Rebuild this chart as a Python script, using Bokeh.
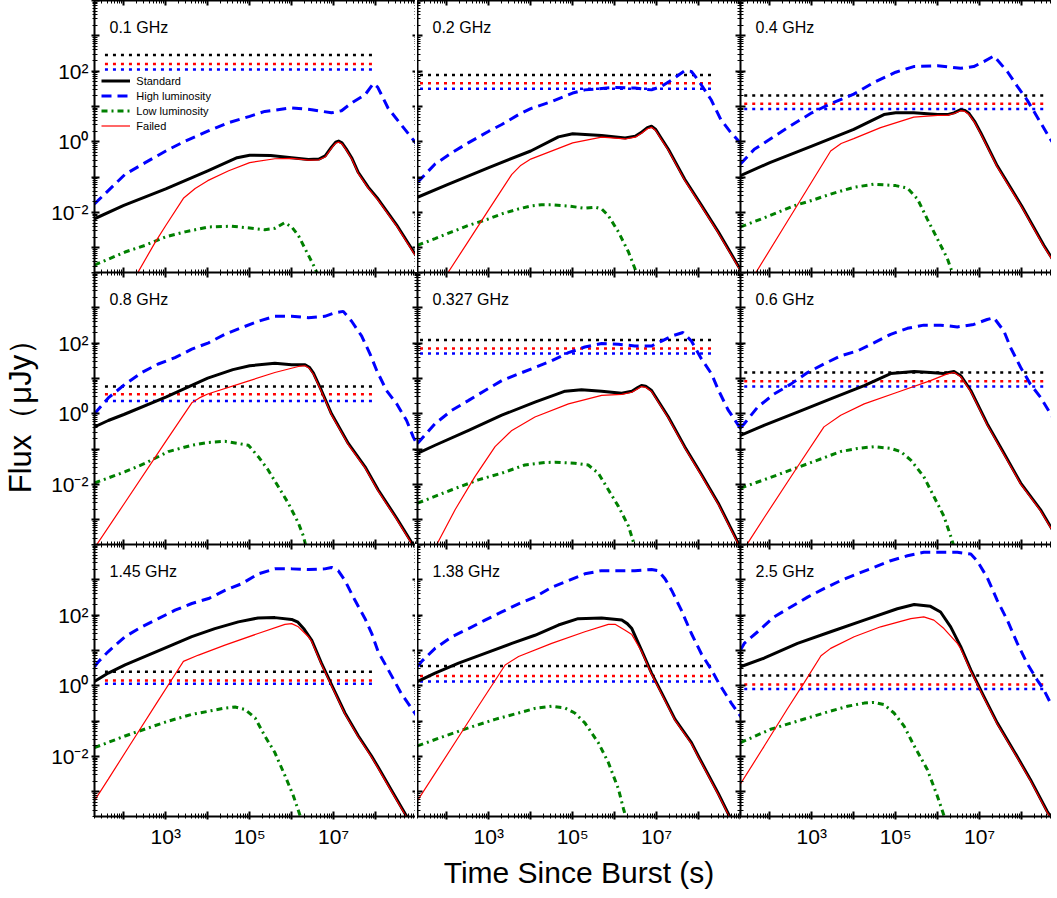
from bokeh.plotting import figure
from bokeh.layouts import gridplot
from bokeh.models import (Range1d, LogAxis, FixedTicker, CustomJSTickFormatter,
                          Label, Legend, LegendItem)
from bokeh.embed import file_html
from bokeh.resources import INLINE

# ---------------- data: (log10 t [s], log10 flux [uJy]) ----------------
PANEL_LABELS = ["0.1 GHz", "0.2 GHz", "0.4 GHz",
                "0.8 GHz", "0.327 GHz", "0.6 GHz",
                "1.45 GHz", "1.38 GHz", "2.5 GHz"]
SERIES_NAMES = ["Standard", "High luminosity", "Low luminosity", "Failed"]

# 0.1 GHz
P1_STD = [(1.30,-2.18),(2.00,-1.80),(3.00,-1.33),(4.00,-0.82),(4.70,-0.45),(5.00,-0.38),(5.50,-0.39),(6.00,-0.45),(6.40,-0.50),(6.65,-0.49),(6.80,-0.40),(6.95,-0.15),(7.05,-0.01),(7.12,0.02),(7.20,-0.03),(7.30,-0.20),(7.43,-0.45),(7.59,-0.87),(7.83,-1.29),(8.06,-1.62),(8.50,-2.35),(8.90,-3.10),(9.10,-3.45)]
P1_FAIL = [(2.00,-4.40),(2.31,-3.75),(2.75,-2.84),(3.00,-2.37),(3.42,-1.60),(3.70,-1.32),(4.00,-1.10),(4.50,-0.82),(5.00,-0.59),(5.60,-0.48),(6.00,-0.47),(6.40,-0.52),(6.65,-0.51),(6.80,-0.43),(6.95,-0.18),(7.05,-0.04),(7.12,-0.01),(7.20,-0.06),(7.30,-0.23),(7.43,-0.48),(7.59,-0.90),(7.83,-1.32),(8.06,-1.65),(8.50,-2.38),(8.90,-3.13),(9.10,-3.48)]
P1_HIGH = [(1.30,-1.76),(2.03,-0.92),(2.51,-0.59),(3.00,-0.26),(3.46,0.02),(4.00,0.30),(4.49,0.54),(5.00,0.72),(5.36,0.86),(6.00,0.96),(6.48,0.91),(6.95,0.82),(7.19,0.88),(7.43,1.10),(7.75,1.33),(7.95,1.65),(8.05,1.55),(8.30,0.95),(8.70,0.35),(8.97,-0.05),(9.10,-0.30)]
P1_LOW = [(1.30,-3.49),(2.03,-3.12),(2.51,-2.93),(3.00,-2.69),(3.46,-2.55),(4.02,-2.41),(4.57,-2.39),(5.00,-2.44),(5.36,-2.49),(5.60,-2.45),(5.83,-2.29),(6.00,-2.41),(6.16,-2.65),(6.36,-3.12),(6.52,-3.49),(6.62,-3.75)]

# 0.2 GHz
P2_STD = [(1.30,-1.57),(2.00,-1.22),(3.00,-0.73),(4.00,-0.26),(4.66,0.14),(5.00,0.23),(5.69,0.18),(6.25,0.11),(6.49,0.16),(6.65,0.28),(6.78,0.40),(6.88,0.44),(6.98,0.35),(7.10,0.12),(7.28,-0.21),(7.67,-1.06),(8.07,-1.80),(8.47,-2.55),(8.94,-3.50),(9.10,-3.80)]
P2_FAIL = [(1.80,-4.15),(2.04,-3.68),(2.50,-2.84),(3.00,-1.92),(3.55,-0.92),(3.75,-0.68),(4.00,-0.49),(5.00,-0.03),(5.69,0.13),(6.25,0.08),(6.49,0.13),(6.65,0.25),(6.78,0.37),(6.88,0.41),(6.98,0.32),(7.10,0.09),(7.28,-0.24),(7.67,-1.09),(8.07,-1.83),(8.47,-2.58),(8.94,-3.53),(9.10,-3.83)]
P2_HIGH = [(1.30,-1.15),(1.72,-0.63),(2.12,-0.31),(2.51,-0.03),(3.00,0.30),(3.31,0.49),(3.71,0.77),(4.00,0.94),(4.50,1.14),(5.00,1.38),(5.29,1.47),(6.00,1.54),(6.48,1.52),(6.88,1.47),(7.12,1.57),(7.36,1.75),(7.67,2.01),(7.83,1.99),(7.99,1.75),(8.30,1.19),(8.53,0.63),(8.77,0.26),(8.99,-0.02),(9.10,-0.20)]
P2_LOW = [(1.30,-2.93),(1.72,-2.74),(2.12,-2.55),(2.51,-2.37),(3.00,-2.18),(3.31,-2.04),(3.71,-1.90),(4.00,-1.82),(4.26,-1.78),(4.50,-1.78),(4.90,-1.82),(5.29,-1.88),(5.53,-1.85),(5.69,-1.90),(5.85,-2.09),(6.09,-2.55),(6.33,-3.12),(6.48,-3.58),(6.55,-3.80)]

# 0.4 GHz
P3_STD = [(1.30,-0.96),(2.00,-0.59),(3.00,-0.12),(4.00,0.35),(4.72,0.77),(5.00,0.82),(5.43,0.82),(6.00,0.77),(6.23,0.77),(6.39,0.82),(6.55,0.91),(6.65,0.89),(6.75,0.80),(6.88,0.58),(7.03,0.25),(7.42,-0.68),(8.00,-1.81),(8.53,-2.93),(8.78,-3.40),(9.00,-3.85)]
P3_FAIL = [(1.50,-4.03),(1.67,-3.70),(2.42,-2.25),(3.00,-1.13),(3.45,-0.26),(3.70,-0.05),(4.00,0.09),(4.64,0.40),(5.43,0.70),(6.00,0.75),(6.23,0.75),(6.39,0.80),(6.55,0.88),(6.65,0.86),(6.75,0.77),(6.88,0.55),(7.03,0.22),(7.42,-0.71),(8.00,-1.84),(8.53,-2.96),(8.78,-3.43),(9.00,-3.88)]
P3_HIGH = [(1.30,-0.63),(1.63,-0.21),(2.00,0.07),(2.42,0.40),(3.00,0.82),(3.45,1.08),(4.00,1.35),(4.48,1.68),(5.00,1.97),(5.43,2.13),(6.00,2.15),(6.55,2.08),(6.86,2.13),(7.10,2.27),(7.34,2.43),(7.66,1.99),(7.90,1.57),(8.13,1.19),(8.69,0.07),(8.85,-0.20)]
P3_LOW = [(1.30,-2.41),(2.00,-2.09),(2.58,-1.81),(3.00,-1.66),(3.45,-1.48),(4.00,-1.29),(4.48,-1.20),(5.00,-1.24),(5.28,-1.31),(5.52,-1.62),(5.75,-2.18),(5.99,-2.74),(6.23,-3.30),(6.35,-3.70),(6.45,-4.00)]

# 0.8 GHz
P4_STD = [(1.30,-0.37),(1.63,-0.19),(2.00,-0.02),(3.00,0.47),(4.00,1.01),(4.60,1.25),(5.00,1.36),(5.60,1.43),(6.00,1.39),(6.32,1.39),(6.42,1.32),(6.52,1.15),(6.71,0.66),(6.95,0.00),(7.35,-0.84),(7.75,-1.50),(8.06,-2.15),(8.50,-2.95),(8.90,-3.72),(9.10,-4.10)]
P4_FAIL = [(1.25,-3.90),(1.30,-3.80),(2.00,-2.56),(3.00,-0.78),(3.62,0.31),(3.80,0.45),(4.00,0.56),(5.00,0.94),(5.60,1.17),(6.16,1.34),(6.32,1.36),(6.42,1.29),(6.52,1.12),(6.71,0.63),(6.95,-0.03),(7.35,-0.87),(7.75,-1.53),(8.06,-2.18),(8.50,-2.98),(8.90,-3.75),(9.10,-4.13)]
P4_HIGH = [(1.30,0.00),(1.63,0.45),(2.03,0.84),(2.43,1.17),(2.82,1.41),(3.22,1.59),(3.62,1.83),(4.02,2.01),(4.41,2.25),(4.81,2.44),(5.21,2.62),(5.60,2.76),(6.00,2.76),(6.40,2.72),(6.79,2.76),(7.03,2.86),(7.23,2.90),(7.43,2.62),(7.67,2.20),(7.87,1.69),(8.03,1.22),(8.26,0.66),(8.50,0.29),(8.74,-0.19),(8.90,-0.66),(9.10,-1.10)]
P4_LOW = [(1.30,-1.96),(2.03,-1.64),(2.51,-1.40),(3.06,-1.07),(3.62,-0.89),(4.02,-0.81),(4.41,-0.78),(4.73,-0.84),(4.97,-0.89),(5.21,-1.22),(5.44,-1.59),(5.68,-2.06),(5.92,-2.53),(6.16,-3.09),(6.28,-3.46),(6.33,-3.70),(6.40,-3.90)]

# 0.327 GHz
P5_STD = [(1.30,-1.12),(1.72,-0.89),(2.52,-0.47),(3.31,-0.04),(4.10,0.33),(4.82,0.64),(5.21,0.68),(5.69,0.64),(6.17,0.58),(6.41,0.64),(6.55,0.74),(6.64,0.80),(6.74,0.78),(6.88,0.66),(7.28,-0.09),(7.67,-0.93),(8.07,-1.72),(8.47,-2.53),(8.94,-3.64),(9.10,-4.00)]
P5_FAIL = [(1.60,-4.10),(1.76,-3.70),(2.20,-2.71),(2.67,-1.78),(3.15,-0.93),(3.55,-0.47),(4.10,-0.09),(4.90,0.28),(5.69,0.52),(6.17,0.55),(6.41,0.61),(6.55,0.71),(6.64,0.77),(6.74,0.75),(6.88,0.63),(7.28,-0.12),(7.67,-0.96),(8.07,-1.75),(8.47,-2.56),(8.94,-3.67),(9.10,-4.03)]
P5_HIGH = [(1.30,-0.84),(1.72,-0.28),(2.12,0.10),(2.52,0.38),(2.91,0.66),(3.31,0.94),(3.71,1.13),(4.10,1.31),(4.50,1.50),(4.90,1.73),(5.29,1.89),(5.69,1.99),(6.09,1.97),(6.48,1.92),(6.88,1.92),(7.12,2.06),(7.36,2.20),(7.63,2.30),(7.83,2.06),(8.07,1.55),(8.31,1.13),(8.47,0.68),(8.70,0.12),(8.99,-0.40),(9.10,-0.60)]
P5_LOW = [(1.30,-2.53),(2.12,-2.15),(2.75,-1.87),(3.31,-1.68),(3.86,-1.45),(4.34,-1.38),(4.58,-1.37),(5.05,-1.40),(5.37,-1.45),(5.61,-1.68),(5.85,-2.15),(6.09,-2.62),(6.33,-3.18),(6.44,-3.60),(6.50,-3.85)]

# 0.6 GHz
P6_STD = [(1.30,-0.61),(1.86,-0.33),(2.66,0.05),(3.45,0.42),(4.25,0.80),(4.88,1.14),(5.44,1.20),(5.83,1.17),(6.15,1.14),(6.39,1.20),(6.55,1.08),(6.79,0.66),(7.18,-0.28),(7.58,-1.12),(7.98,-1.96),(8.45,-2.71),(8.78,-3.37),(9.00,-3.80)]
P6_FAIL = [(1.35,-3.95),(1.47,-3.67),(1.86,-2.95),(2.66,-1.50),(3.29,-0.37),(3.69,-0.04),(4.25,0.28),(5.04,0.61),(5.83,0.94),(6.23,1.13),(6.39,1.17),(6.55,1.05),(6.79,0.63),(7.18,-0.31),(7.58,-1.15),(7.98,-1.99),(8.45,-2.74),(8.78,-3.40),(9.00,-3.83)]
P6_HIGH = [(1.30,-0.40),(1.39,-0.28),(1.71,0.19),(2.10,0.56),(2.50,0.84),(2.90,1.17),(3.29,1.41),(3.69,1.64),(4.09,1.78),(4.48,2.01),(4.88,2.25),(5.28,2.42),(5.67,2.51),(6.07,2.51),(6.47,2.46),(6.86,2.53),(7.18,2.67),(7.34,2.72),(7.58,2.34),(7.74,1.87),(7.98,1.31),(8.21,0.84),(8.45,0.47),(8.69,0.00),(8.85,-0.30)]
P6_LOW = [(1.30,-2.10),(1.86,-1.87),(2.50,-1.59),(3.14,-1.31),(3.69,-1.07),(4.09,-0.98),(4.48,-0.93),(4.88,-0.98),(5.12,-1.07),(5.36,-1.31),(5.67,-1.78),(5.91,-2.34),(6.15,-2.90),(6.31,-3.46),(6.40,-3.80)]

# 1.45 GHz
P7_STD = [(1.30,0.12),(1.63,0.36),(2.03,0.59),(2.51,0.83),(3.06,1.11),(3.62,1.39),(4.17,1.62),(4.73,1.81),(5.20,1.92),(5.60,1.93),(6.00,1.88),(6.15,1.80),(6.30,1.60),(6.48,1.29),(6.71,0.64),(6.95,0.03),(7.27,-0.77),(7.59,-1.42),(7.90,-1.98),(8.06,-2.30),(8.40,-3.00),(8.73,-3.67),(8.90,-4.00)]
P7_FAIL = [(1.30,-3.25),(1.63,-2.64),(2.15,-1.67),(2.82,-0.42),(3.22,0.32),(3.42,0.69),(3.78,0.87),(4.41,1.15),(5.20,1.48),(5.84,1.74),(6.00,1.76),(6.16,1.67),(6.40,1.39),(6.48,1.25),(6.71,0.61),(6.95,0.00),(7.27,-0.80),(7.59,-1.45),(7.90,-2.01),(8.06,-2.33),(8.40,-3.03),(8.73,-3.70),(8.90,-4.03)]
P7_HIGH = [(1.30,0.54),(1.40,0.69),(1.63,0.97),(2.03,1.39),(2.43,1.67),(2.82,1.90),(3.22,2.14),(3.62,2.33),(4.02,2.47),(4.41,2.70),(4.81,2.89),(5.21,3.17),(5.60,3.31),(6.00,3.31),(6.40,3.29),(6.79,3.31),(6.95,3.35),(7.11,3.26),(7.27,2.98),(7.51,2.42),(7.75,1.90),(7.91,1.48),(8.06,0.97),(8.30,0.46),(8.61,-0.21),(8.94,-0.78),(9.10,-1.10)]
P7_LOW = [(1.30,-1.75),(2.03,-1.42),(2.59,-1.19),(3.06,-1.00),(3.62,-0.81),(4.02,-0.72),(4.41,-0.63),(4.65,-0.60),(4.89,-0.67),(5.13,-0.91),(5.36,-1.42),(5.60,-1.89),(5.84,-2.54),(6.04,-3.11),(6.20,-3.67),(6.30,-4.00)]

# 1.38 GHz
P8_STD = [(1.30,0.12),(1.72,0.36),(2.28,0.64),(2.91,0.92),(3.55,1.20),(4.10,1.43),(4.66,1.72),(5.13,1.90),(5.69,1.92),(6.17,1.86),(6.30,1.76),(6.41,1.62),(6.64,1.01),(6.88,0.36),(7.12,-0.20),(7.44,-0.95),(7.83,-1.61),(8.00,-2.00),(8.47,-3.05),(8.70,-3.60),(8.85,-3.95)]
P8_FAIL = [(1.30,-3.25),(1.72,-2.48),(2.28,-1.45),(2.75,-0.58),(3.15,0.15),(3.39,0.59),(3.71,0.83),(4.50,1.20),(5.29,1.53),(5.85,1.74),(6.01,1.74),(6.25,1.57),(6.41,1.45),(6.64,0.98),(6.88,0.33),(7.12,-0.23),(7.44,-0.98),(7.83,-1.64),(8.00,-2.03),(8.47,-3.08),(8.70,-3.63),(8.85,-3.98)]
P8_HIGH = [(1.30,0.54),(1.40,0.69),(1.72,1.06),(2.12,1.39),(2.52,1.62),(2.91,1.86),(3.31,2.09),(3.71,2.32),(4.10,2.51),(4.50,2.79),(4.90,2.98),(5.29,3.17),(5.69,3.26),(6.09,3.26),(6.48,3.26),(6.88,3.29),(7.04,3.26),(7.20,3.03),(7.36,2.70),(7.59,2.14),(7.83,1.48),(8.07,0.90),(8.31,0.45),(8.47,0.10),(8.78,-0.49),(9.00,-0.86),(9.10,-1.05)]
P8_LOW = [(1.30,-1.70),(1.96,-1.42),(2.52,-1.19),(3.15,-0.95),(3.71,-0.77),(4.10,-0.64),(4.50,-0.58),(4.82,-0.63),(5.05,-0.77),(5.29,-1.05),(5.61,-1.61),(5.85,-2.17),(6.09,-2.92),(6.21,-3.48),(6.30,-3.85)]

# 2.5 GHz
P9_STD = [(1.30,0.54),(1.86,0.78),(2.66,1.20),(3.45,1.53),(4.25,1.86),(5.04,2.18),(5.44,2.30),(5.83,2.25),(6.07,2.09),(6.31,1.67),(6.55,1.11),(6.79,0.45),(7.10,-0.30),(7.42,-1.05),(7.82,-1.85),(8.21,-2.65),(8.61,-3.55),(8.80,-3.90)]
P9_FAIL = [(1.30,-2.78),(1.86,-1.72),(2.42,-0.65),(2.82,0.09),(3.22,0.85),(3.45,1.06),(4.01,1.39),(4.64,1.67),(5.36,1.90),(5.67,1.95),(5.91,1.86),(6.15,1.62),(6.47,1.20),(6.55,1.05),(6.79,0.42),(7.10,-0.33),(7.42,-1.08),(7.82,-1.88),(8.21,-2.68),(8.61,-3.58),(8.80,-3.93)]
P9_HIGH = [(1.30,1.01),(1.39,1.20),(1.71,1.53),(2.10,1.95),(2.50,2.23),(2.90,2.51),(3.29,2.75),(3.69,2.98),(4.09,3.17),(4.48,3.35),(4.88,3.54),(5.28,3.68),(5.67,3.78),(6.07,3.78),(6.47,3.78),(6.79,3.73),(6.94,3.54),(7.18,3.07),(7.42,2.42),(7.66,1.86),(7.90,1.20),(8.13,0.64),(8.37,0.17),(8.53,-0.11),(8.69,-0.49),(8.85,-0.80)]
P9_LOW = [(1.30,-1.61),(2.02,-1.23),(2.66,-1.00),(3.29,-0.77),(3.85,-0.58),(4.25,-0.49),(4.48,-0.47),(4.72,-0.53),(4.96,-0.77),(5.20,-1.14),(5.44,-1.70),(5.75,-2.36),(5.99,-3.11),(6.11,-3.53),(6.20,-3.85)]

# sensitivity limits (log10 flux), one per panel: black / red / blue dotted lines
LIM_BLACK = [2.46, 1.89, 1.31, 0.77, 2.09, 1.17, 0.40, 0.56, 0.29]
LIM_RED   = [2.20, 1.66, 1.08, 0.55, 1.85, 0.92, 0.15, 0.28, 0.04]
LIM_BLUE  = [2.05, 1.50, 0.93, 0.36, 1.71, 0.77, 0.06, 0.12, -0.09]
LIM_T_START = [1.55, 1.36, 1.39]   # log10 t, per column
LIM_T_END   = [7.95, 8.39, 8.61]

X_TICK_EXPONENTS = list(range(1, 10))
Y_TICK_EXPONENTS = list(range(-4, 5))
X_LABELED = [3, 5, 7]
X_LABEL_TEXTS = ["10\u00b3", "10\u2075", "10\u2077"]
Y_LABELED = [2, 0, -2]
Y_LABEL_TEXTS = ["10\u00b2", "10\u2070", "10\u207b\u00b2"]
X_LOG_MIN, X_LOG_MAX = 1.301, 9.0
Y_LOG_MIN, Y_LOG_MAX = -3.7, 4.0

STD = [P1_STD, P2_STD, P3_STD, P4_STD, P5_STD, P6_STD, P7_STD, P8_STD, P9_STD]
FAIL = [P1_FAIL, P2_FAIL, P3_FAIL, P4_FAIL, P5_FAIL, P6_FAIL, P7_FAIL, P8_FAIL, P9_FAIL]
HIGH = [P1_HIGH, P2_HIGH, P3_HIGH, P4_HIGH, P5_HIGH, P6_HIGH, P7_HIGH, P8_HIGH, P9_HIGH]
LOW = [P1_LOW, P2_LOW, P3_LOW, P4_LOW, P5_LOW, P6_LOW, P7_LOW, P8_LOW, P9_LOW]

# ---------------- styling ----------------
FONT = "Liberation Sans"
FW = [323, 323, 311]
FH = 272
LB = 92
BB = 74
PPD = FW[0] / (X_LOG_MAX - X_LOG_MIN)

STYLE = {
    "Standard": dict(line_color="#000000", line_width=3, line_join="round"),
    "High luminosity": dict(line_color="#0000ff", line_width=3, line_dash="10 6"),
    "Low luminosity": dict(line_color="#008000", line_width=3, line_dash="6 4 2 4"),
    "Failed": dict(line_color="#ff0000", line_width=1.2),
}


def xy(arr):
    return [10.0 ** a for a, _ in arr], [10.0 ** b for _, b in arr]


def ticker(exps):
    return FixedTicker(ticks=[10.0 ** e for e in exps],
                       minor_ticks=[m * 10.0 ** e for e in exps for m in range(2, 10)])


def style_axis(ax, exps, labeled=None, texts=None, outer=False, standoff=6):
    ax.ticker = ticker(exps)
    ax.axis_line_width = 2
    ax.axis_line_color = "black"
    ax.major_tick_line_color = "black"
    ax.minor_tick_line_color = "black"
    ax.major_tick_line_width = 2
    ax.minor_tick_line_width = 1
    ax.major_tick_in = 5
    ax.minor_tick_in = 3
    ax.major_tick_out = 3 if outer else 0
    ax.minor_tick_out = 2 if outer else 0
    if labeled:
        ax.formatter = CustomJSTickFormatter(
            args=dict(exps=labeled, texts=texts),
            code="const e = Math.round(Math.log10(tick)); const i = exps.indexOf(e); return i >= 0 ? texts[i] : '';")
        ax.major_label_text_font = FONT
        ax.major_label_text_font_size = "21px"
        ax.major_label_text_color = "black"
        ax.major_label_standoff = standoff
    else:
        ax.formatter = CustomJSTickFormatter(code="return '';")
        ax.major_label_text_font_size = "0px"
        ax.major_label_standoff = 0


figs = []
for r in range(3):
    row = []
    for c in range(3):
        i = 3 * r + c
        x_end = 10.0 ** (X_LOG_MIN + FW[c] / PPD)
        p = figure(x_axis_type="log", y_axis_type="log",
                   x_range=Range1d(10.0 ** X_LOG_MIN, x_end),
                   y_range=Range1d(10.0 ** Y_LOG_MIN, 10.0 ** Y_LOG_MAX),
                   frame_width=FW[c], frame_height=FH,
                   min_border_left=LB if c == 0 else 0,
                   min_border_right=0, min_border_top=0,
                   min_border_bottom=BB if r == 2 else 0,
                   toolbar_location=None, output_backend="svg")
        p.xgrid.visible = False
        p.ygrid.visible = False
        p.outline_line_color = None
        p.background_fill_color = "white"
        p.border_fill_color = "white"

        bottom_ax = p.below[0]
        left_ax = p.left[0]
        if r == 2:
            style_axis(bottom_ax, X_TICK_EXPONENTS, X_LABELED, X_LABEL_TEXTS, outer=True, standoff=5)
        else:
            style_axis(bottom_ax, X_TICK_EXPONENTS)
        if c == 0:
            style_axis(left_ax, Y_TICK_EXPONENTS, Y_LABELED, Y_LABEL_TEXTS, outer=True, standoff=3)
        else:
            style_axis(left_ax, Y_TICK_EXPONENTS)
        top = LogAxis()
        style_axis(top, X_TICK_EXPONENTS)
        p.add_layout(top, "above")
        if c < 2:
            right = LogAxis()
            style_axis(right, Y_TICK_EXPONENTS)
            p.add_layout(right, "right")

        if r == 1 and c == 0:
            left_ax.axis_label = "Flux\uff08\u03bcJy\uff09"
            left_ax.axis_label_text_font = FONT
            left_ax.axis_label_text_font_size = "31px"
            left_ax.axis_label_text_font_style = "normal"
            left_ax.axis_label_text_color = "black"
            left_ax.axis_label_standoff = 10
        if r == 2 and c == 1:
            bottom_ax.axis_label = "Time Since Burst (s)"
            bottom_ax.axis_label_text_font = FONT
            bottom_ax.axis_label_text_font_size = "30px"
            bottom_ax.axis_label_text_font_style = "normal"
            bottom_ax.axis_label_text_color = "black"
            bottom_ax.axis_label_standoff = 5

        t0, t1 = 10.0 ** LIM_T_START[c], 10.0 ** LIM_T_END[c]
        for lvl, col in ((LIM_BLACK[i], "#000000"), (LIM_RED[i], "#ff0000"), (LIM_BLUE[i], "#0000ff")):
            p.line([t0, t1], [10.0 ** lvl, 10.0 ** lvl], line_color=col, line_width=2.5, line_dash="3 5")

        rs = {}
        for name, data in (("Standard", STD[i]), ("High luminosity", HIGH[i]),
                           ("Low luminosity", LOW[i]), ("Failed", FAIL[i])):
            xs, ys = xy(data)
            rs[name] = p.line(xs, ys, **STYLE[name])

        p.add_layout(Label(x=15, y=FH - 27, x_units="screen", y_units="screen",
                           text=PANEL_LABELS[i], text_font=FONT, text_font_size="16px",
                           text_color="black", text_baseline="alphabetic"))

        if i == 0:
            legend = Legend(items=[LegendItem(label=n, renderers=[rs[n]]) for n in SERIES_NAMES],
                            location=(40, FH - 133), padding=0, spacing=0, margin=0,
                            glyph_width=29, glyph_height=15, label_height=15, label_standoff=6,
                            label_text_font=FONT, label_text_font_size="11px",
                            label_text_color="black",
                            border_line_color=None, background_fill_alpha=0)
            p.add_layout(legend)
        row.append(p)
    figs.append(row)

grid = gridplot(figs, toolbar_location=None)
open("out.html", "w").write(file_html(grid, INLINE, title="Flux vs time"))
